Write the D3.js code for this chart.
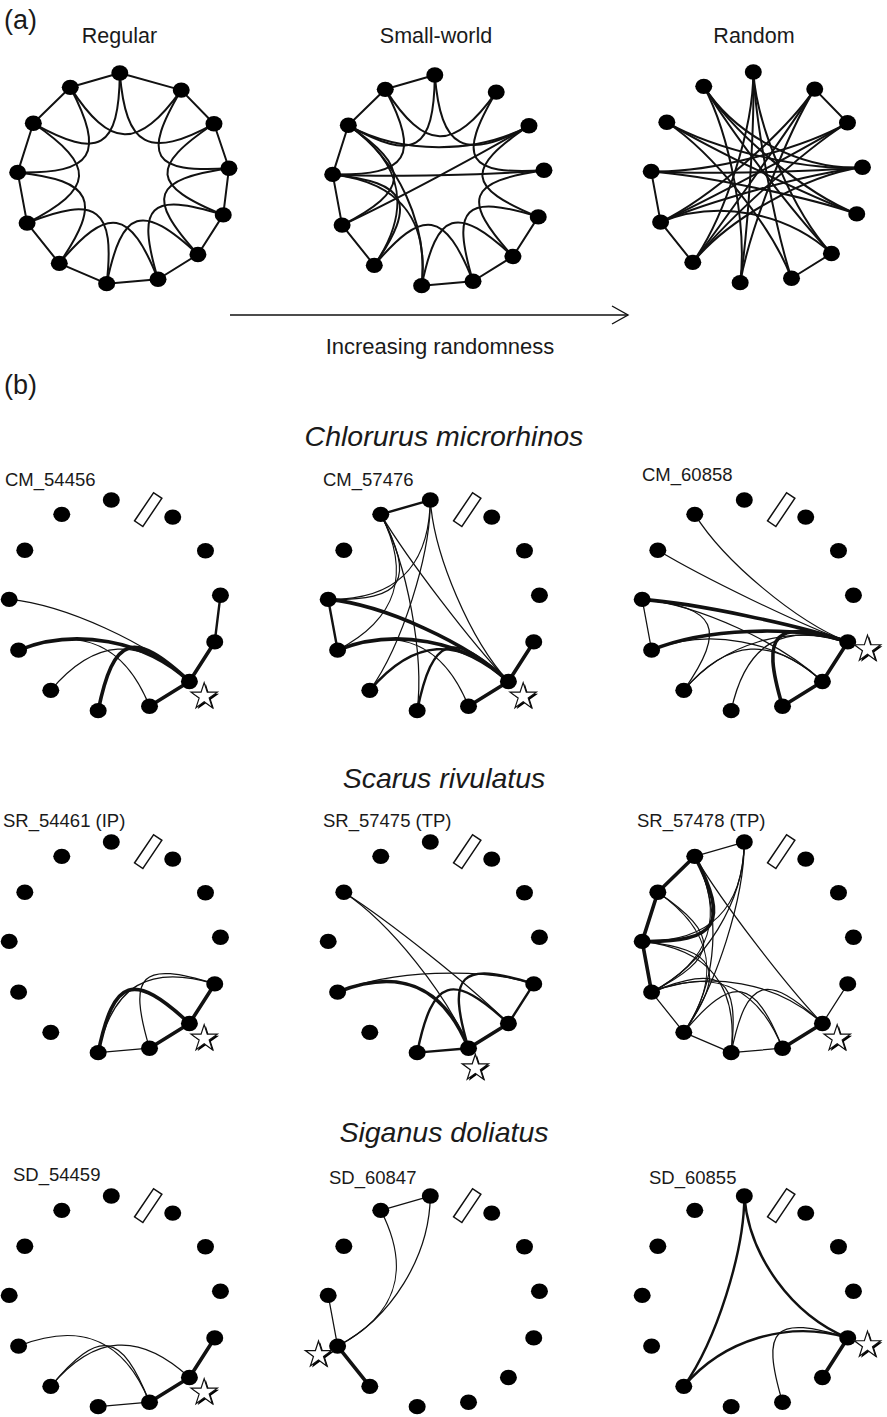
<!DOCTYPE html>
<html>
<head>
<meta charset="utf-8">
<script src="https://cdn.jsdelivr.net/npm/d3@7"></script>
<style>
  body { margin: 0; background: #fff; }
  text { font-family: "Liberation Sans", Arial, Helvetica, sans-serif; fill: #1a1a1a; }
</style>
</head>
<body>
<svg id="fig" width="887" height="1417"></svg>
<script>
// Receivers, numbered clockwise from the top of the ring
const receivers = d3.range(13);

// (a) example networks: [from, to]
const regularEdges = [
  [0,1],[1,2],[2,3],[3,4],[4,5],[5,6],[6,7],[7,8],[8,9],[9,10],[10,11],[11,12],[12,0],
  [0,2],[1,3],[2,4],[3,5],[4,6],[5,7],[6,8],[7,9],[8,10],[9,11],[10,12],[11,0],[12,1]
];
const smallWorldEdges = [
  [0,12],[12,11],[11,10],[10,9],[9,8],[7,6],[6,5],[5,4],
  [0,11],[0,2],[12,1],[12,10],[11,9],[10,8],[8,6],[7,5],[6,4],[5,3],[4,2],[3,1],
  [10,3],[9,2],[11,7],[8,11],[11,2],[7,10]
];
const randomEdges = [
  [1,2],[10,9],[9,8],[6,5],[0,7],[0,8],[0,6],[0,5],[12,3],[12,4],[12,5],[11,3],[11,4],
  [11,6],[1,8],[1,9],[1,7],[2,10],[2,9],[3,10],[3,9],[4,10],[5,9],[8,2],[8,3],[7,12]
];

// (b) individual fish networks: [from, to, link strength 1-3]
const cm54456 = [[5,4,3],[4,3,2],[5,6,3],[10,5,1],[9,5,3],[9,6,1],[8,5,1],[7,5,3]];
const cm57476 = [[0,12,2],[0,5,1],[12,7,1],[12,5,1],[12,10,1],[12,9,1],[10,9,2],[10,5,3],[9,5,3],
                 [10,0,1],[8,5,2],[8,0,1],[7,5,2],[6,9,1],[6,5,3],[5,4,3]];
const cm60858 = [[12,4,1],[11,4,1],[10,4,3],[9,4,3],[10,9,1],[10,5,1],[9,5,1],[8,4,1],[8,5,1],
                 [8,10,1],[7,4,1],[6,4,3],[6,5,3],[5,4,3]];
const sr54461 = [[7,6,1],[6,5,3],[5,4,3],[7,5,3],[7,4,1],[6,4,1]];
const sr57475 = [[11,6,1],[11,5,1],[9,4,1],[9,6,3],[7,6,2],[7,5,2],[6,5,3],[5,4,2],[6,4,2]];
const sr57478 = [[0,12,1],[12,11,3],[11,10,3],[10,9,3],[12,10,3],[9,8,1],[8,7,1],[7,6,1],[6,5,3],
                 [5,4,1],[12,5,1],[0,10,1],[0,9,1],[0,8,1],[12,9,1],[12,8,1],[11,9,1],[11,8,1],
                 [10,8,1],[10,7,1],[9,7,1],[9,6,1],[9,5,1],[8,6,1],[7,5,1]];
const sd54459 = [[7,6,1],[6,5,3],[5,4,3],[9,6,1],[8,5,1],[8,6,1]];
const sd60847 = [[0,12,1],[10,9,1],[9,8,3],[9,12,1],[9,0,1]];
const sd60855 = [[0,8,2],[0,4,2],[8,4,2],[6,4,1],[5,4,3]];

const networkTitles = ["Regular", "Small-world", "Random"];
const speciesNames = ["Chlorurus microrhinos", "Scarus rivulatus", "Siganus doliatus"];
const fishIds = [
  ["CM_54456", "CM_57476", "CM_60858"],
  ["SR_54461 (IP)", "SR_57475 (TP)", "SR_57478 (TP)"],
  ["SD_54459", "SD_60847", "SD_60855"]
];
const fishEdges = [
  [cm54456, cm57476, cm60858],
  [sr54461, sr57475, sr57478],
  [sd54459, sd60847, sd60855]
];
const releaseSite = [[5, 5, 4], [5, 6, 5], [5, 9, 4]];

// ---------------------------------------------------------------
const svg = d3.select("#fig");
const R = 106;
const N = receivers.length;

// bearing of each receiver on the ring (degrees, clockwise from +x)
const bearing = d3.scaleLinear().domain([0, 1, 6, 13]).range([-92, -57, 71, 268]);
const widthScale = d3.scaleLinear().domain([1, 3]).range([1.25, 3.6]);
// how hard a link is drawn towards its pivot, by chord length
const pullScale = d3.scaleLinear().domain([90, 212]).range([0.8, 0.5]).clamp(true);

function nodePos(cx, cy, i, r = R) {
  const a = bearing(i) * Math.PI / 180;
  return [cx + r * Math.cos(a), cy + r * Math.sin(a)];
}

// Neighbours on the ring are joined straight. Other links are bundled
// towards the ring centre: the pivot sits between the chord midpoint and
// the centre, so long chords stay nearly straight and short ones bend in.
const BUNDLE = 0.9;
function edgePath(cx, cy, a, b) {
  const [x0, y0] = nodePos(cx, cy, a);
  const [x1, y1] = nodePos(cx, cy, b);
  const d = Math.abs(a - b);
  const p = d3.path();
  p.moveTo(x0, y0);
  if (Math.min(d, N - d) === 1) {
    p.lineTo(x1, y1);
  } else {
    const mx = (x0 + x1) / 2, my = (y0 + y1) / 2;
    const qx = mx + BUNDLE * (cx - mx), qy = my + BUNDLE * (cy - my);
    const k = pullScale(Math.hypot(x1 - x0, y1 - y0));
    p.bezierCurveTo(x0 + k * (qx - x0), y0 + k * (qy - y0),
                    x1 + k * (qx - x1), y1 + k * (qy - y1), x1, y1);
  }
  return p.toString();
}

function drawRing(g, cx, cy, edges, weighted) {
  g.append("g")
    .selectAll("path")
    .data(edges)
    .join("path")
    .attr("d", e => edgePath(cx, cy, e[0], e[1]))
    .attr("fill", "none")
    .attr("stroke", "#111")
    .attr("stroke-linecap", "round")
    .attr("stroke-width", e => weighted ? widthScale(e[2]) : 2);
  g.append("g")
    .selectAll("ellipse")
    .data(receivers)
    .join("ellipse")
    .attr("cx", i => nodePos(cx, cy, i)[0])
    .attr("cy", i => nodePos(cx, cy, i)[1])
    .attr("rx", 8.5)
    .attr("ry", 7.7)
    .attr("fill", "#000");
}

// ---------------- (a) ----------------
svg.append("text").attr("x", 4).attr("y", 29).attr("font-size", 27).text("(a)");
const aCenters = [[123.5, 179], [438.5, 181], [757, 178]];
const aTitleX = [119.5, 436, 754];
const aEdges = [regularEdges, smallWorldEdges, randomEdges];
aCenters.forEach(([cx, cy], k) => {
  const g = svg.append("g");
  g.append("text").attr("x", aTitleX[k]).attr("y", 43)
    .attr("text-anchor", "middle").attr("font-size", 21.5).text(networkTitles[k]);
  drawRing(g, cx, cy, aEdges[k], false);
});

// arrow
const arrowX = d3.scaleLinear().domain([0, 1]).range([230, 628]);
svg.append("line").attr("x1", arrowX(0)).attr("x2", arrowX(1)).attr("y1", 315).attr("y2", 315)
  .attr("stroke", "#111").attr("stroke-width", 1.4);
svg.append("path")
  .attr("d", `M${arrowX(1) - 16},306 L${arrowX(1)},315 L${arrowX(1) - 16},324`)
  .attr("fill", "none").attr("stroke", "#111").attr("stroke-width", 1.4);
svg.append("text").attr("x", 440).attr("y", 354).attr("text-anchor", "middle")
  .attr("font-size", 22).text("Increasing randomness");

// ---------------- (b) ----------------
svg.append("text").attr("x", 4).attr("y", 394).attr("font-size", 27).text("(b)");
const bCols = [115, 434, 748];
const bRows = [606, 948, 1302];
const labelX = [[5, 323, 642], [3, 323, 637], [13, 329, 649]];
const labelDy = [[-120, -120, -125], [-121, -121, -121], [-121, -118, -118]];

const star = d3.symbol().type(d3.symbolStar).size(215);

bRows.forEach((cy, r) => {
  svg.append("text").attr("x", 444).attr("y", cy - 160).attr("text-anchor", "middle")
    .attr("font-size", 28.5).attr("font-style", "italic").text(speciesNames[r]);
  bCols.forEach((cx, c) => {
    const g = svg.append("g");
    g.append("text").attr("x", labelX[r][c]).attr("y", cy + labelDy[r][c])
      .attr("font-size", 18.5).text(fishIds[r][c]);
    drawRing(g, cx, cy, fishEdges[r][c], true);

    // receiver out of service, between receivers 0 and 1
    const [rx, ry] = nodePos(cx, cy, 0.6, 102);
    g.append("rect")
      .attr("x", -17).attr("y", -5).attr("width", 34).attr("height", 10)
      .attr("transform", `translate(${rx},${ry}) rotate(-56)`)
      .attr("fill", "#fff").attr("stroke", "#111").attr("stroke-width", 1.5);

    // release site
    const [sx, sy] = nodePos(cx, cy, releaseSite[r][c], R + 21);
    g.append("path").attr("d", star).attr("transform", `translate(${sx + 1.7},${sy + 1.5})`)
      .attr("fill", "#000");
    g.append("path").attr("d", star).attr("transform", `translate(${sx},${sy})`)
      .attr("fill", "#fff").attr("stroke", "#111").attr("stroke-width", 1.2);
  });
});
</script>
</body>
</html>
